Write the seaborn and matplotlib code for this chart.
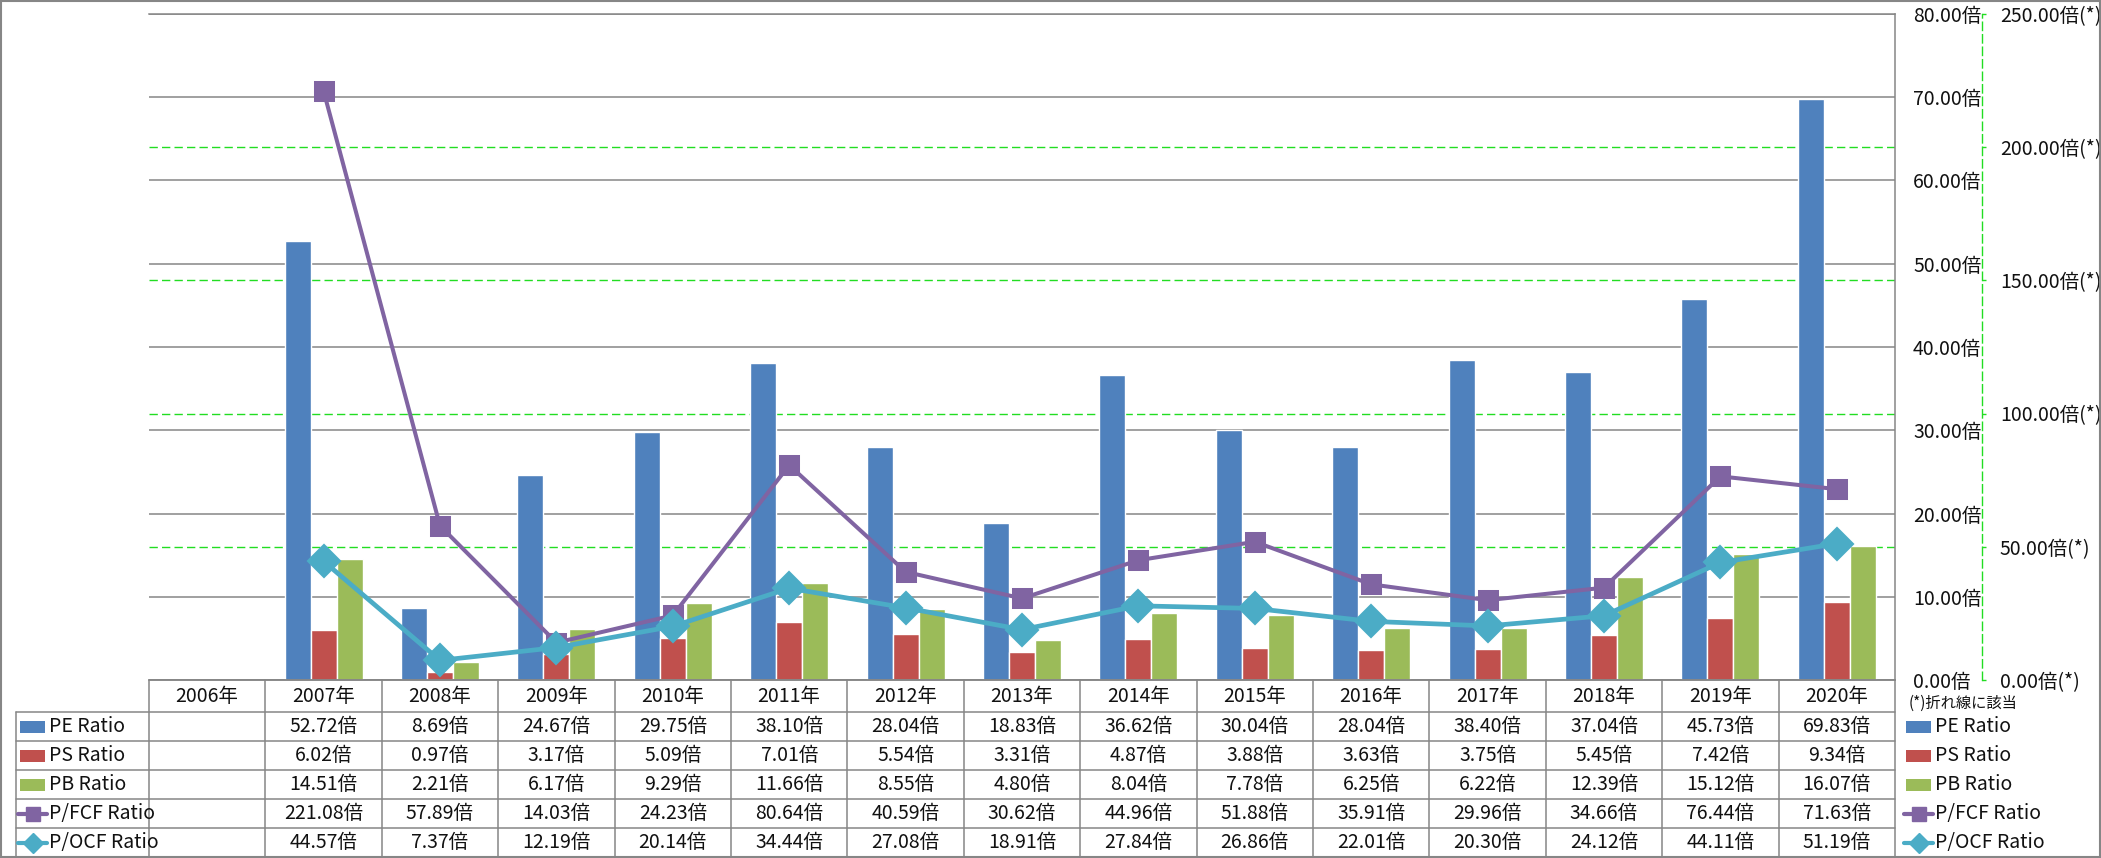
import numpy as np
import pandas as pd
import matplotlib
matplotlib.use('Agg')
import matplotlib.pyplot as plt
import seaborn as sns
from matplotlib.patches import Rectangle

# ---------------- data ----------------
years = ['2006年', '2007年', '2008年', '2009年', '2010年', '2011年', '2012年', '2013年',
         '2014年', '2015年', '2016年', '2017年', '2018年', '2019年', '2020年']
pe_ratio = [np.nan, 52.72, 8.69, 24.67, 29.75, 38.10, 28.04, 18.83, 36.62, 30.04, 28.04, 38.40, 37.04, 45.73, 69.83]
ps_ratio = [np.nan, 6.02, 0.97, 3.17, 5.09, 7.01, 5.54, 3.31, 4.87, 3.88, 3.63, 3.75, 5.45, 7.42, 9.34]
pb_ratio = [np.nan, 14.51, 2.21, 6.17, 9.29, 11.66, 8.55, 4.80, 8.04, 7.78, 6.25, 6.22, 12.39, 15.12, 16.07]
pfcf_ratio = [np.nan, 221.08, 57.89, 14.03, 24.23, 80.64, 40.59, 30.62, 44.96, 51.88, 35.91, 29.96, 34.66, 76.44, 71.63]
pocf_ratio = [np.nan, 44.57, 7.37, 12.19, 20.14, 34.44, 27.08, 18.91, 27.84, 26.86, 22.01, 20.30, 24.12, 44.11, 51.19]

bar_names = ['PE Ratio', 'PS Ratio', 'PB Ratio']
line_names = ['P/FCF Ratio', 'P/OCF Ratio']
primary_ticks = [0, 10, 20, 30, 40, 50, 60, 70, 80]
secondary_ticks = [0, 50, 100, 150, 200, 250]
note_text = '(*)折れ線に該当'

# ---------------- style ----------------
c_pe, c_ps, c_pb = '#4F81BD', '#C0504D', '#9BBB59'
c_fcf, c_ocf = '#8064A2', '#4BACC6'
gray = '#868686'
green = '#22DD22'
txt = '#111111'
FS = 14

sns.set_theme(style='white')
plt.rcParams['font.family'] = ['Noto Sans CJK JP', 'DejaVu Sans']

W, H = 2101, 858
fig = plt.figure(figsize=(W / 100, H / 100), dpi=100)
fig.patch.set_facecolor('white')

PL, PR, PT, PBt = 149, 1895, 14, 680
ax = fig.add_axes([PL / W, 1 - PBt / H, (PR - PL) / W, (PBt - PT) / H])

df_bars = pd.DataFrame({
    'year': years * 3,
    'metric': [bar_names[0]] * len(years) + [bar_names[1]] * len(years) + [bar_names[2]] * len(years),
    'value': pe_ratio + ps_ratio + pb_ratio,
})
sns.barplot(data=df_bars, x='year', y='value', hue='metric', order=years, hue_order=bar_names,
            palette=[c_pe, c_ps, c_pb], width=0.67, gap=0, saturation=1, errorbar=None,
            legend=False, ax=ax, zorder=2)

# ---------------- lines on secondary axis ----------------
ax2 = ax.twinx()
df_fcf = pd.DataFrame({'year': years, 'value': pfcf_ratio})
df_ocf = pd.DataFrame({'year': years, 'value': pocf_ratio})
sns.pointplot(data=df_fcf, x='year', y='value', order=years, color=c_fcf, marker='s',
              markersize=13, markeredgecolor=c_fcf, linewidth=2.9, errorbar=None, ax=ax2)
sns.pointplot(data=df_ocf, x='year', y='value', order=years, color=c_ocf, marker='D',
              markersize=15, markeredgecolor=c_ocf, linewidth=3.4, errorbar=None, ax=ax2)

# primary axis styling (after twinx, which resets tick side)
ax.set_xlim(-0.5, len(years) - 0.5)
ax.set_ylim(0, 80)
ax.set_yticks(primary_ticks)
ax.set_yticklabels([f'{t:.2f}倍' for t in primary_ticks])
ax.set_yticks([t * 80 / 250 for t in secondary_ticks[1:-1]], minor=True)
ax.yaxis.tick_right()
ax.yaxis.set_label_position('right')
ax.tick_params(axis='y', which='major', length=0, pad=13, labelsize=FS, labelcolor=txt,
               left=False, labelleft=False, right=True, labelright=True)
ax.tick_params(axis='y', which='minor', length=0)
ax.tick_params(axis='x', length=0, labelbottom=False)
ax.grid(False)
ax.grid(axis='y', which='major', color=gray, lw=1.1, zorder=0)
ax.grid(axis='y', which='minor', color=green, lw=1.0, linestyle=(0, (6, 3)), zorder=0)
ax.set_axisbelow(True)
ax.set_xlabel('')
ax.set_ylabel('')
ax.spines['left'].set_visible(False)
for s in ['top', 'bottom', 'right']:
    ax.spines[s].set_color(gray)
    ax.spines[s].set_linewidth(1.1)

ax2.set_xlim(-0.5, len(years) - 0.5)
ax2.set_ylim(0, 250)
ax2.set_yticks(secondary_ticks)
ax2.set_yticklabels([f'{t:.2f}倍(*)' for t in secondary_ticks])
ax2.tick_params(axis='y', length=3, width=1, color=green, direction='out', pad=10,
                labelsize=FS, labelcolor=txt)
ax2.tick_params(axis='x', bottom=False, labelbottom=False)
ax2.grid(False)
ax2.set_xlabel('')
ax2.set_ylabel('')
for s in ['left', 'top', 'bottom']:
    ax2.spines[s].set_visible(False)
ax2.spines['right'].set_position(('outward', 62.6))
ax2.spines['right'].set_color(green)
ax2.spines['right'].set_linestyle((0, (6, 3)))
ax2.spines['right'].set_linewidth(1.0)

# ---------------- data table (overlay in pixel coords) ----------------
ov = fig.add_axes([0, 0, 1, 1])
ov.set_xlim(0, W)
ov.set_ylim(H, 0)
ov.axis('off')
ov.patch.set_alpha(0)

def xpx(v):
    return ax.transData.transform((v, 0))[0]

row_edges = [680, 712, 741, 770, 799, 828, 857]
LBL_L = 16
n = len(years)
ov.plot([xpx(-0.5), xpx(n - 0.5)], [680, 680], color=gray, lw=1.1)
for y in row_edges[1:-1]:
    ov.plot([LBL_L, xpx(n - 0.5)], [y, y], color=gray, lw=1.1)
ov.plot([LBL_L, LBL_L], [712, 857], color=gray, lw=1.1)
for i in range(n + 1):
    ov.plot([xpx(i - 0.5), xpx(i - 0.5)], [680, 857], color=gray, lw=1.1)

hc = (row_edges[0] + row_edges[1]) / 2
for i, y in enumerate(years):
    ov.text(xpx(i), hc, y, ha='center', va='center', fontsize=FS, color=txt)

series_all = [pe_ratio, ps_ratio, pb_ratio, pfcf_ratio, pocf_ratio]
names_all = bar_names + line_names
colors_all = [c_pe, c_ps, c_pb, c_fcf, c_ocf]
for r, (vals, name, col) in enumerate(zip(series_all, names_all, colors_all)):
    yc = (row_edges[r + 1] + row_edges[r + 2]) / 2
    for i, v in enumerate(vals):
        if not np.isnan(v):
            ov.text(xpx(i), yc, f'{v:.2f}倍', ha='center', va='center', fontsize=FS, color=txt)
    for kx, tx in [(20, 49), (1906, 1935)]:
        if r < 3:
            ov.add_patch(Rectangle((kx, yc - 6), 25, 12, facecolor=col, edgecolor='none'))
        else:
            ov.plot([kx - 2, kx + 27], [yc, yc], color=col, lw=3)
            ov.plot([kx + 12.5], [yc], marker='s' if r == 3 else 'D', ms=10 if r == 3 else 10,
                    color=col, mec=col)
        ov.text(tx, yc, name, ha='left', va='center', fontsize=FS, color=txt)

ov.text(1909, 703, note_text, ha='left', va='center', fontsize=11, color=txt)

ov.add_patch(Rectangle((1, 1), W - 2, H - 2, fill=False, edgecolor=gray, lw=1.5))

fig.savefig('out.png', dpi=100, facecolor='white')
